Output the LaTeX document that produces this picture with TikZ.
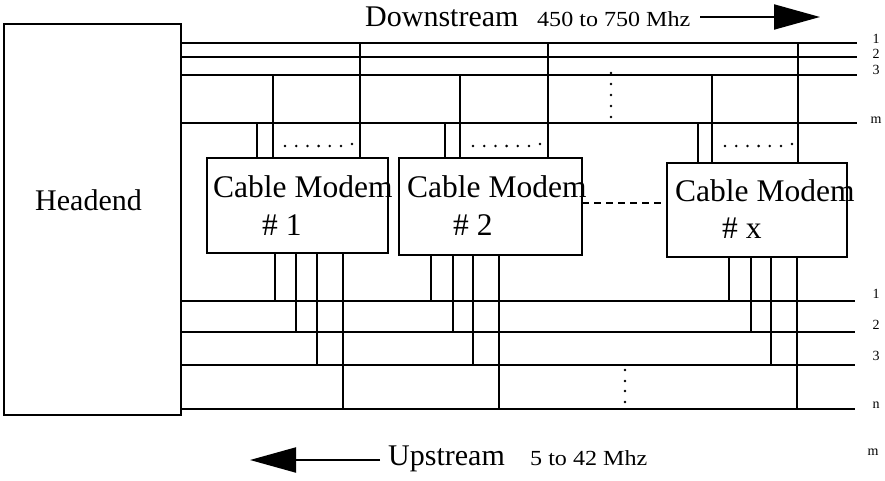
\documentclass[tikz,border=0pt]{standalone}
\usepackage{fontspec}
\setmainfont{Liberation Serif}
\newfontfamily\smallf{Liberation Serif}[FakeStretch=1.12]
\usetikzlibrary{arrows.meta}
\begin{document}
\begin{tikzpicture}[x=1pt,y=-1pt,
  bus/.style={line width=2.2pt},
  box/.style={draw,line width=2.6pt,fill=white,inner sep=0pt,outer sep=0pt},
  big/.style={font=\fontsize{30}{30}\selectfont,inner sep=0pt,anchor=base west},
  cmtext/.style={font=\fontsize{31.5}{31.5}\selectfont,inner sep=0pt,anchor=base west},
  freq/.style={font=\smallf\fontsize{21.5}{21.5}\selectfont,inner sep=0pt,anchor=base west},
  lbl/.style={font=\fontsize{14}{14}\selectfont,inner sep=0pt},
  arr/.style={line width=2pt,-{Triangle[length=46pt,width=25pt]}},
]
\useasboundingbox (0,0) rectangle (885,481);

% Headend
\node[box,minimum width=177pt,minimum height=391pt] (head) at (92.5,219.5) {};
\node[big] (headtxt) at (35,210) {Headend};

% downstream buses
\coordinate (d1) at (857,43);
\coordinate (d2) at (857,57);
\coordinate (d3) at (857,75);
\coordinate (dm) at (857,123);
\foreach \c in {d1,d2,d3,dm} \draw[bus] (head.east |- \c) -- (\c);

% upstream buses
\coordinate (u1) at (855,301);
\coordinate (u2) at (855,332);
\coordinate (u3) at (855,365);
\coordinate (un) at (855,409);
\foreach \c in {u1,u2,u3,un} \draw[bus] (head.east |- \c) -- (\c);

% cable modem boxes (positions)
\coordinate (c1) at (297.5,205.5);
\coordinate (c2) at (490.5,206.5);
\coordinate (cx) at (757,210);

% verticals to downstream
\foreach \x/\c in {257/dm,273/d3,360/d1} \draw[bus] (\x,0 |- \c) -- (\x,158);
\foreach \x/\c in {445/dm,460/d3,548/d1} \draw[bus] (\x,0 |- \c) -- (\x,158);
\foreach \x/\c in {698/dm,712/d3,798/d1} \draw[bus] (\x,0 |- \c) -- (\x,163);

% verticals to upstream
\foreach \x/\c in {275/u1,296/u2,317/u3,343/un} \draw[bus] (\x,253) -- (\x,0 |- \c);
\foreach \x/\c in {431/u1,453/u2,473/u3,499/un} \draw[bus] (\x,255) -- (\x,0 |- \c);
\foreach \x/\c in {729/u1,751/u2,771/u3,797/un} \draw[bus] (\x,257) -- (\x,0 |- \c);

\node[box,minimum width=181pt,minimum height=95pt] (cm1) at (c1) {};
\node[box,minimum width=183pt,minimum height=97pt] (cm2) at (c2) {};
\node[box,minimum width=180pt,minimum height=94pt] (cmx) at (cx) {};

\node[cmtext] (t1) at (213,197) {Cable Modem};
\node[cmtext] (n1) at (262,235) {\# 1};
\node[cmtext] (t2) at (407,197) {Cable Modem};
\node[cmtext] (n2) at (453,235) {\# 2};
\node[cmtext] (tx) at (675,201) {Cable Modem};
\node[cmtext] (nx) at (722,238) {\# x};

% dashed link
\draw[bus,dash pattern=on 7pt off 5pt] (cm2.east |- 0,203) -- (cmx.west |- 0,203);

% dotted rows
\foreach \x in {285,473,725} {
  \foreach \i in {0,...,5} \fill (\x+\i*11.2,146) circle (1.4pt);
  \fill (\x+67,144) circle (1.4pt);
}
\foreach \y in {73,84,95,106,117} \fill (611,\y) circle (1.4pt);
\foreach \y in {370,381,391,402} \fill (625,\y) circle (1.4pt);

% labels
\node[lbl] (l1) at (876,39) {1};
\node[lbl] (l2) at (876,54) {2};
\node[lbl] (l3) at (876,70) {3};
\node[lbl] (lm) at (876,120) {m};
\node[lbl] (b1) at (876,294) {1};
\node[lbl] (b2) at (876,325) {2};
\node[lbl] (b3) at (876,356) {3};
\node[lbl] (bn) at (876,405) {n};
\node[lbl] (bm) at (873,452) {m};

% Downstream
\node[big] (down) at (365,27) {Downstream};
\node[freq] (dfreq) at (537,27) {450 to 750 Mhz};
\coordinate (da) at (700,17);
\coordinate (db) at (820,17);
\draw[arr] (da) -- (db);

% Upstream
\node[big] (up) at (388,465) {Upstream};
\node[freq] (ufreq) at (530,465) {5 to 42 Mhz};
\coordinate (ua) at (380,460);
\coordinate (ub) at (250,460);
\draw[arr] (ua) -- (ub);
\end{tikzpicture}
\end{document}
